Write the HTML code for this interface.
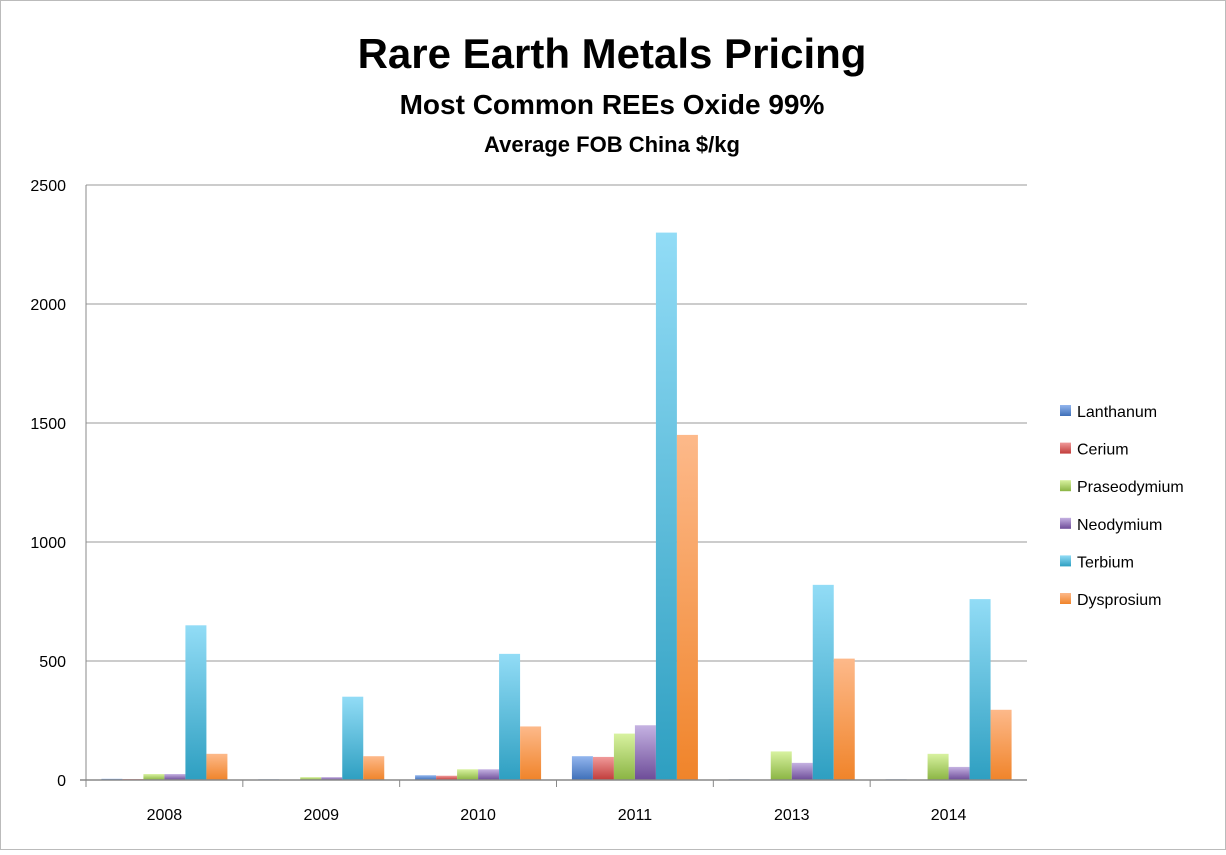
<!DOCTYPE html>
<html><head><meta charset="utf-8"><style>
body{margin:0;background:#fff;}
svg text{font-family:"Liberation Sans",sans-serif;}
</style></head><body>
<svg id="chart" width="1226" height="850">
<defs>
<linearGradient id="g0" x1="0" y1="0" x2="0" y2="1"><stop offset="0" stop-color="#93b6ee"/><stop offset="1" stop-color="#3e6fb8"/></linearGradient>
<linearGradient id="g1" x1="0" y1="0" x2="0" y2="1"><stop offset="0" stop-color="#f09a9a"/><stop offset="1" stop-color="#c13c3a"/></linearGradient>
<linearGradient id="g2" x1="0" y1="0" x2="0" y2="1"><stop offset="0" stop-color="#d8f2a0"/><stop offset="1" stop-color="#8ab443"/></linearGradient>
<linearGradient id="g3" x1="0" y1="0" x2="0" y2="1"><stop offset="0" stop-color="#c5b2e2"/><stop offset="1" stop-color="#6d4c98"/></linearGradient>
<linearGradient id="g4" x1="0" y1="0" x2="0" y2="1"><stop offset="0" stop-color="#92dcf6"/><stop offset="1" stop-color="#2e9fc1"/></linearGradient>
<linearGradient id="g5" x1="0" y1="0" x2="0" y2="1"><stop offset="0" stop-color="#fdb98a"/><stop offset="1" stop-color="#f0842a"/></linearGradient>
</defs>
<rect x="0.5" y="0.5" width="1225" height="849" fill="#fff" stroke="#bbb"/>
<text x="612" y="68" text-anchor="middle" font-size="42" font-weight="bold">Rare Earth Metals Pricing</text>
<text x="612" y="114" text-anchor="middle" font-size="28" font-weight="bold">Most Common REEs Oxide 99%</text>
<text x="612" y="152" text-anchor="middle" font-size="22" font-weight="bold">Average FOB China $/kg</text>
<g id="grid"></g><g id="bars"></g><g id="axes"></g><g id="legend"></g>
</svg>
<script>
const categories=["2008","2009","2010","2011","2013","2014"];
const seriesNames=["Lanthanum","Cerium","Praseodymium","Neodymium","Terbium","Dysprosium"];
const lanthanum=[5,3,20,100,3,3];
const cerium=[4,2,18,97,2,0];
const praseodymium=[25,12,45,195,120,110];
const neodymium=[25,12,45,230,72,55];
const terbium=[650,350,530,2300,820,760];
const dysprosium=[110,100,225,1450,510,295];
const yTicks=[0,500,1000,1500,2000,2500];
const series=[lanthanum,cerium,praseodymium,neodymium,terbium,dysprosium];
const NS="http://www.w3.org/2000/svg";
const X0=86,X1=1027,Y0=780,Y1=185,YMAX=2500;
const gw=(X1-X0)/categories.length;
const y=v=>Y0-(v/YMAX)*(Y0-Y1);
const xg=i=>X0+i*gw;
function mk(t,a,p){const e=document.createElementNS(NS,t);for(const k in a)e.setAttribute(k,a[k]);p.appendChild(e);return e;}
const grid=document.getElementById('grid'),bars=document.getElementById('bars'),axes=document.getElementById('axes'),legend=document.getElementById('legend');
yTicks.forEach(t=>{
  if(t>0){const l=mk('line',{x1:X0,x2:X1,y1:y(t),y2:y(t),stroke:'#999','stroke-width':1},grid);
  
  }
  const tx=mk('text',{x:66,y:y(t)+6,'text-anchor':'end','font-size':16},axes);tx.textContent=t;
  
  
});
const ya=mk('line',{x1:X0,x2:X0,y1:Y1,y2:Y0,stroke:'#888'},axes);


const xa=mk('line',{x1:X0-6,x2:X1,y1:Y0,y2:Y0,stroke:'#888','stroke-width':1.5},axes);


const bw=21,off=(gw-bw*6)/2;
categories.forEach((c,i)=>{
  const tk=mk('line',{x1:xg(i),x2:xg(i),y1:Y0,y2:Y0+7,stroke:'#888'},axes);
  
  
  const lab=mk('text',{x:xg(i)+gw/2,y:Y0+40,'text-anchor':'middle','font-size':16},axes);lab.textContent=c;
  
  
  series.forEach((s,j)=>{
    const v=s[i];
    const r=mk('rect',{x:xg(i)+off+j*bw,y:y(v),width:bw,height:Y0-y(v),fill:'url(#g'+j+')'},bars);
    
    
  });
});
seriesNames.forEach((n,j)=>{
  const yy=412+j*37.6;
  const sw=mk('rect',{x:1060,y:yy-7,width:11,height:11,fill:'url(#g'+j+')'},legend);
  
  
  const t=mk('text',{x:1077,y:yy+5,'font-size':16},legend);t.textContent=n;
  
  
});
</script>
</body></html>
